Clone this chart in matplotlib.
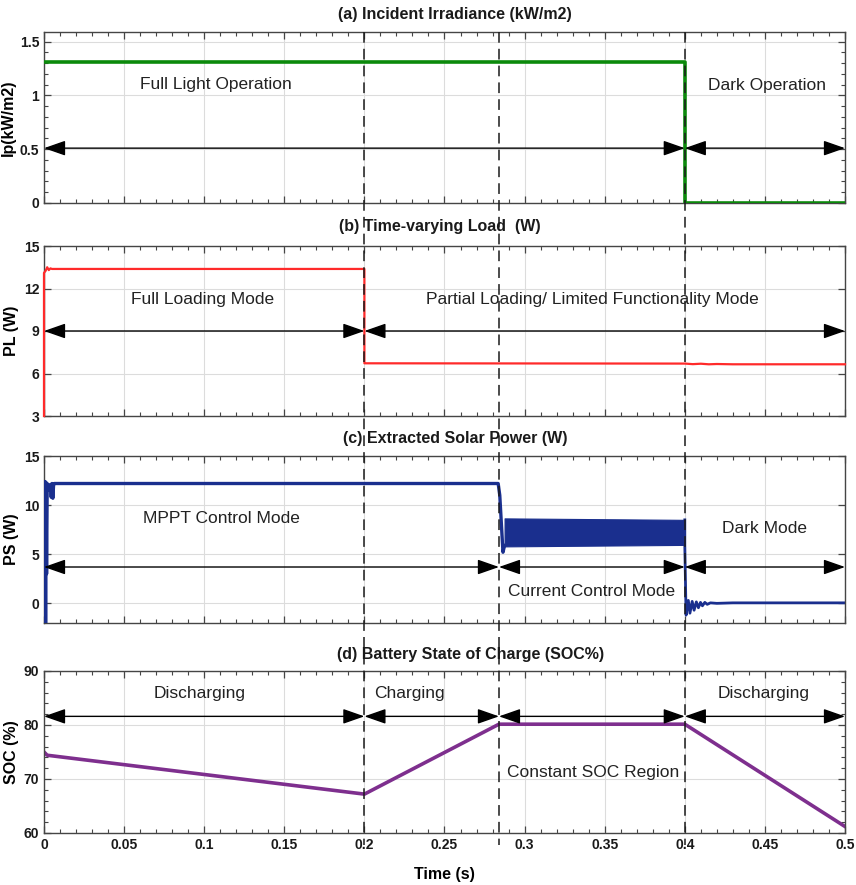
import matplotlib
matplotlib.use("Agg")
import matplotlib.pyplot as plt
from matplotlib.lines import Line2D
from matplotlib.ticker import MultipleLocator
import matplotlib.transforms as mtransforms

plt.rcParams['font.family'] = ['Liberation Sans', 'DejaVu Sans']

# ---------------- data ----------------
# (a) irradiance
t_irr = [0.0, 0.4, 0.4, 0.5]
irr = [1.31, 1.31, 0.0, 0.0]

# (b) load power
t_load = [0.0, 0.0, 0.001, 0.002, 0.003, 0.004, 0.005, 0.2, 0.2, 0.4,
          0.405, 0.41, 0.415, 0.42, 0.43, 0.5]
p_load = [3.0, 13.1, 13.25, 13.5, 13.3, 13.42, 13.38, 13.38, 6.72, 6.70,
          6.66, 6.69, 6.65, 6.67, 6.65, 6.65]

# (c) extracted solar power
t_ps = [0.0, 0.0003, 0.0007, 0.001, 0.0013, 0.0016, 0.002, 0.0025, 0.003,
        0.004, 0.0045, 0.005, 0.0055, 0.006, 0.0065, 0.008, 0.2835, 0.2845,
        0.2865, 0.2875]
p_s = [0.0, -2.0, 12.4, -2.0, 12.3, 3.0, 12.2, 11.5, 12.0,
       12.1, 10.8, 12.2, 10.7, 12.1, 12.2, 12.2, 12.2, 11.0,
       5.2, 5.9]
band_t = [0.2875, 0.4]
band_lo = [5.8, 5.95]
band_hi = [8.65, 8.5]
t_dark = [0.4, 0.4, 0.4008, 0.4022, 0.4032, 0.4046, 0.4058, 0.4072, 0.4085,
          0.4098, 0.411, 0.4125, 0.414, 0.416, 0.42, 0.43, 0.5]
p_dark = [8.5, 5.9, -1.2, 0.3, -1.0, 0.2, -0.7, 0.15, -0.45,
          0.1, -0.25, 0.1, -0.1, 0.05, 0.0, 0.05, 0.05]

# (d) battery SOC
t_soc = [0.0, 0.002, 0.2, 0.284, 0.4, 0.5]
soc = [75.0, 74.4, 67.2, 80.15, 80.15, 61.2]

x_ticks = [0, 0.05, 0.1, 0.15, 0.2, 0.25, 0.3, 0.35, 0.4, 0.45, 0.5]
x_tick_labels = ['0', '0.05', '0.1', '0.15', '0.2', '0.25', '0.3', '0.35', '0.4', '0.45', '0.5']
mode_edges = [0.2, 0.284, 0.4]

titles = ['(a) Incident Irradiance (kW/m2)', '(b) Time-varying Load  (W)',
          '(c) Extracted Solar Power (W)', '(d) Battery State of Charge (SOC%)']
ylabels = ['Ip(kW/m2)', 'PL (W)', 'PS (W)', 'SOC (%)']

# ---------------- figure ----------------
W, H = 856, 885
fig = plt.figure(figsize=(W / 100, H / 100), dpi=100)

def box(top, bottom, left=44, right=845):
    return [left / W, 1 - bottom / H, (right - left) / W, (bottom - top) / H]

axes = [fig.add_axes(box(32, 203)), fig.add_axes(box(246, 416)),
        fig.add_axes(box(456, 623)), fig.add_axes(box(671, 833))]

spine_col = '#454545'
title_x = [0.513, 0.494, 0.513, 0.533]
title_off = [17, 19, 18, 16]

for i, ax in enumerate(axes):
    ax.set_xlim(0, 0.5)
    ax.set_xticks(x_ticks)
    ax.xaxis.set_minor_locator(MultipleLocator(0.01))
    ax.grid(True, which='major', color='#dcdcdc', lw=0.8)
    ax.set_axisbelow(True)
    for s in ax.spines.values():
        s.set_color(spine_col)
        s.set_linewidth(1.0)
    ax.tick_params(which='both', direction='in', top=True, right=True,
                   colors=spine_col, labelcolor='#1a1a1a')
    ax.tick_params(which='major', length=5, width=0.9, labelsize=10)
    ax.tick_params(which='minor', length=3, width=0.8)
    if i < 3:
        ax.set_xticklabels([])
    else:
        ax.set_xticklabels(x_tick_labels, fontweight='bold', fontsize=10)
        ax.set_xlabel('Time (s)', fontweight='bold', fontsize=11.5, labelpad=11)
    ax.set_ylabel(ylabels[i], fontweight='bold', fontsize=11.5, labelpad=3)
    ax.annotate(titles[i], xy=(title_x[i], 1.0), xycoords='axes fraction',
                xytext=(0, title_off[i]), textcoords='offset pixels',
                ha='center', va='center', fontweight='bold', fontsize=11.5,
                color='#1a1a1a')

def darrow(ax, x0, x1, y):
    ax.annotate('', xy=(x1, y), xytext=(x0, y),
                arrowprops=dict(arrowstyle='<|-|>,head_length=1.2,head_width=0.42',
                                color='black', lw=1.0, mutation_scale=11,
                                shrinkA=0, shrinkB=0))

txt_kw = dict(fontsize=12.5, ha='center', va='center', color='#222222')

# (a)
ax = axes[0]
ax.plot(t_irr, irr, color='#0b8a0b', lw=2.6, zorder=3)
ax.set_ylim(0, 1.59)
ax.set_yticks([0, 0.5, 1, 1.5])
ax.set_yticklabels(['0', '0.5', '1', '1.5'], fontweight='bold')
ax.yaxis.set_minor_locator(MultipleLocator(0.1))
darrow(ax, 0.0, 0.4, 0.51)
darrow(ax, 0.4, 0.5, 0.51)
ax.text(0.107, 1.1, 'Full Light Operation', **txt_kw)
ax.text(0.451, 1.09, 'Dark Operation', **txt_kw)

# (b)
ax = axes[1]
ax.plot(t_load, p_load, color='#ff2a2a', lw=1.6, clip_on=False, zorder=3)
ax.set_ylim(3, 15)
ax.set_yticks([3, 6, 9, 12, 15])
ax.set_yticklabels(['3', '6', '9', '12', '15'], fontweight='bold')
darrow(ax, 0.0, 0.2, 9)
darrow(ax, 0.2, 0.5, 9)
ax.text(0.099, 11.25, 'Full Loading Mode', **txt_kw)
ax.text(0.342, 11.25, 'Partial Loading/ Limited Functionality Mode', **txt_kw)

# (c)
ax = axes[2]
blue = '#1a2f8e'
ax.plot(t_ps, p_s, color=blue, lw=2.4, zorder=3)
ax.fill_between(band_t, band_lo, band_hi, color=blue, lw=0.8, edgecolor=blue)
ax.plot(t_dark, p_dark, color=blue, lw=2.0)
ax.set_ylim(-2, 15)
ax.set_yticks([0, 5, 10, 15])
ax.set_yticklabels(['0', '5', '10', '15'], fontweight='bold')
darrow(ax, 0.0, 0.284, 3.7)
darrow(ax, 0.284, 0.4, 3.7)
darrow(ax, 0.4, 0.5, 3.7)
ax.text(0.111, 8.6, 'MPPT Control Mode', **txt_kw)
ax.text(0.342, 1.2, 'Current Control Mode', **txt_kw)
ax.text(0.45, 7.6, 'Dark Mode', **txt_kw)

# (d)
ax = axes[3]
ax.plot(t_soc, soc, color='#7e2f8e', lw=2.6)
ax.set_ylim(60, 90)
ax.set_yticks([60, 70, 80, 90])
ax.set_yticklabels(['60', '70', '80', '90'], fontweight='bold')
ax.yaxis.set_minor_locator(MultipleLocator(2))
darrow(ax, 0.0, 0.2, 81.6)
darrow(ax, 0.2, 0.284, 81.6)
darrow(ax, 0.284, 0.4, 81.6)
darrow(ax, 0.4, 0.5, 81.6)
ax.text(0.097, 85.9, 'Discharging', **txt_kw)
ax.text(0.228, 85.9, 'Charging', **txt_kw)
ax.text(0.343, 71.2, 'Constant SOC Region', **txt_kw)
ax.text(0.449, 85.9, 'Discharging', **txt_kw)

# dashed mode boundaries across all panels
trans = mtransforms.blended_transform_factory(axes[3].transData, fig.transFigure)
for xe in mode_edges:
    fig.add_artist(Line2D([xe, xe], [1 - 32 / H, 1 - 845 / H], transform=trans,
                          color='#1a1a1a', lw=1.1, linestyle=(0, (7, 4)), zorder=5))

fig.savefig('out.png', dpi=100)
